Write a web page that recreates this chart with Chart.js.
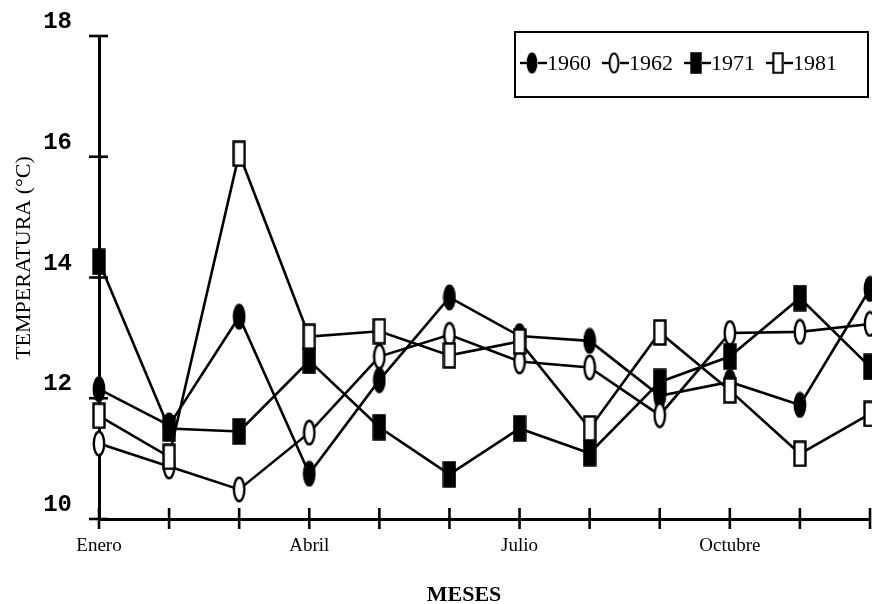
<!DOCTYPE html>
<html>
<head>
<meta charset="utf-8">
<script src="https://cdn.jsdelivr.net/npm/chart.js@4.4.0/dist/chart.umd.min.js"></script>
<style>
  html, body { margin: 0; padding: 0; background: #fff; }
  #wrap { width: 872px; height: 604px; }
</style>
</head>
<body>
<div id="wrap"><canvas id="c" width="872" height="604"></canvas></div>
<script>
// ---- Data ----
const months = ['Enero', '', '', 'Abril', '', '', 'Julio', '', '', 'Octubre', '', ''];
const yTicks = [10, 12, 14, 16, 18];
const seriesNames = ['1960', '1962', '1971', '1981'];
const t1960 = [12.15, 11.55, 13.35, 10.75, 12.30, 13.67, 13.03, 12.95, 12.04, 12.27, 11.89, 13.81];
const t1962 = [11.25, 10.87, 10.49, 11.43, 12.69, 13.05, 12.61, 12.51, 11.72, 13.08, 13.10, 13.23];
const t1971 = [14.26, 11.50, 11.45, 12.62, 11.52, 10.74, 11.50, 11.09, 12.27, 12.69, 13.66, 12.52];
const t1981 = [11.71, 11.03, 16.05, 13.02, 13.11, 12.71, 12.94, 11.50, 13.09, 12.13, 11.08, 11.74];
const yTitle = 'TEMPERATURA (°C)';
const xTitle = 'MESES';

// ---- Marker images ----
function makeMarker(shape, filled) {
  const c = document.createElement('canvas');
  c.width = 14; c.height = 27;
  const g = c.getContext('2d');
  g.lineWidth = 2.4;
  g.strokeStyle = '#000';
  g.fillStyle = filled ? '#000' : '#fff';
  g.beginPath();
  if (shape === 'ellipse') g.ellipse(7, 13.5, 5.2, 11.8, 0, 0, Math.PI * 2);
  else g.rect(1.5, 1.5, 11, 24);
  g.fill();
  g.stroke();
  return c;
}
const markers = [
  makeMarker('ellipse', true),
  makeMarker('ellipse', false),
  makeMarker('rect', true),
  makeMarker('rect', false)
];

const seriesValues = [t1960, t1962, t1971, t1981];
const drawOrder = [3, 2, 1, 0];

const datasets = seriesNames.map((name, i) => ({
  label: name,
  data: seriesValues[i],
  borderColor: '#000',
  borderWidth: 2.6,
  backgroundColor: '#000',
  pointStyle: markers[i],
  pointRadius: 10,
  pointHoverRadius: 10,
  tension: 0,
  fill: false,
  clip: false,
  order: drawOrder[i]
}));

function line(ctx, x1, y1, x2, y2) {
  ctx.beginPath(); ctx.moveTo(x1, y1); ctx.lineTo(x2, y2); ctx.stroke();
}

const decor = {
  id: 'decor',
  beforeDraw(chart) {
    const ctx = chart.ctx;
    ctx.save();
    ctx.fillStyle = '#fff';
    ctx.fillRect(0, 0, chart.width, chart.height);
    ctx.restore();
  },
  beforeDatasetsDraw(chart) {
    const { ctx, chartArea: a, scales: { x, y } } = chart;
    ctx.save();
    ctx.strokeStyle = '#000';
    ctx.lineWidth = 2.6;
    x.ticks.forEach((t, i) => {
      const px = x.getPixelForTick(i);
      line(ctx, px, a.bottom - 11, px, a.bottom + 10);
    });
    y.ticks.forEach((t, i) => {
      const py = y.getPixelForTick(i);
      line(ctx, a.left - 10, py, a.left + 9, py);
    });
    ctx.restore();
  },
  afterDraw(chart) {
    const { ctx } = chart;
    ctx.save();
    ctx.fillStyle = '#000';
    // Y title
    ctx.save();
    ctx.translate(24, 258);
    ctx.rotate(-Math.PI / 2);
    ctx.font = '22px "Liberation Serif"';
    ctx.textAlign = 'center';
    ctx.textBaseline = 'middle';
    ctx.fillText(yTitle, 0, 0);
    ctx.restore();
    // X title
    ctx.font = 'bold 22px "Liberation Serif"';
    ctx.textAlign = 'center';
    ctx.textBaseline = 'middle';
    ctx.fillText(xTitle, 464, 595);
    // Legend box
    ctx.strokeStyle = '#000';
    ctx.lineWidth = 2;
    ctx.strokeRect(515, 32, 353, 65);
    let cx = 520;
    const cy = 63;
    ctx.font = '22px "Liberation Serif"';
    ctx.textAlign = 'left';
    ctx.lineWidth = 2.4;
    chart.data.datasets.forEach((ds, i) => {
      line(ctx, cx, cy, cx + 8, cy);
      const img = ds.pointStyle;
      ctx.drawImage(img, cx + 6, cy - 11, 12, 22);
      line(ctx, cx + 18, cy, cx + 27, cy);
      ctx.fillText(ds.label, cx + 27, cy + 1);
      cx += 27 + ctx.measureText(ds.label).width + 11;
    });
    ctx.restore();
  }
};

new Chart(document.getElementById('c'), {
  type: 'line',
  data: { labels: months, datasets: datasets },
  options: {
    responsive: false,
    animation: false,
    devicePixelRatio: 1,
    layout: { autoPadding: false, padding: { top: 36, right: 2, left: 0, bottom: 0 } },
    plugins: { legend: { display: false }, tooltip: { enabled: false }, title: { display: false } },
    scales: {
      x: {
        type: 'category',
        offset: false,
        grid: { display: false, drawTicks: false },
        border: { display: true, color: '#000', width: 3 },
        ticks: {
          autoSkip: false, maxRotation: 0, minRotation: 0, padding: 16,
          color: '#000', font: { family: 'Liberation Serif', size: 19 }
        },
        afterFit(scale) {
          scale.height = 85;
          scale.paddingLeft = 0; scale.paddingRight = 0;
        }
      },
      y: {
        min: 10, max: 18,
        afterBuildTicks(scale) { scale.ticks = yTicks.map(v => ({ value: v })); },
        grid: { display: false, drawTicks: false },
        border: { display: true, color: '#000', width: 3 },
        ticks: {
          padding: 27, labelOffset: -14, color: '#000',
          font: { family: 'Liberation Mono', size: 24, weight: 'bold' }
        },
        afterFit(scale) {
          scale.width = 99;
          scale.paddingTop = 0; scale.paddingBottom = 0;
        }
      }
    }
  },
  plugins: [decor]
});
</script>
</body>
</html>
